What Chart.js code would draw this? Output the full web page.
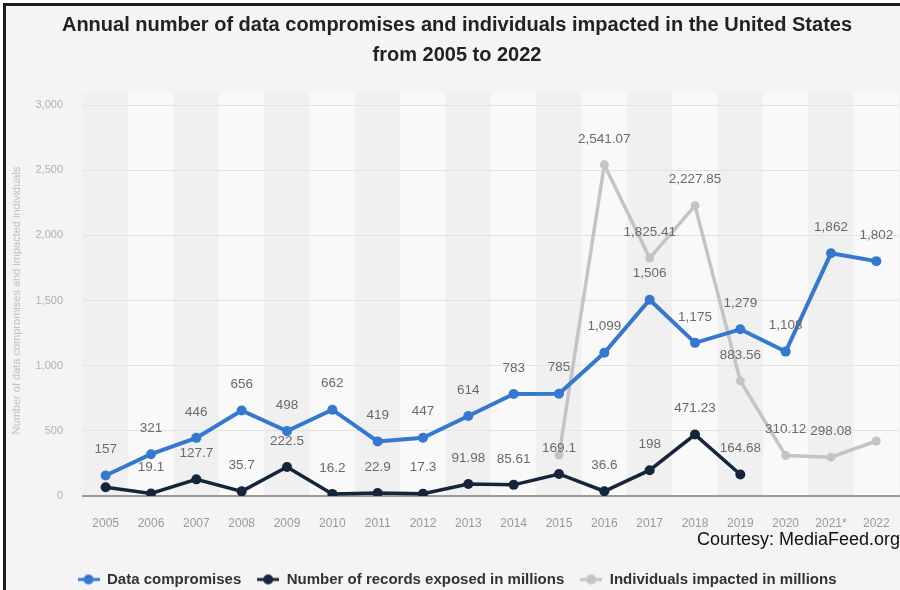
<!DOCTYPE html>
<html>
<head>
<meta charset="utf-8">
<script src="https://cdn.jsdelivr.net/npm/chart.js@4"></script>
<style>
  body { margin: 0; background: #fff; }
  .frame {
    position: absolute; left: 3px; top: 3px; width: 897px; height: 587px;
    border-left: 3px solid #1c1c1c; border-top: 3px solid #1c1c1c;
    background: #f4f4f4;
  }
  #wrap { position: absolute; left: 0; top: 0; width: 900px; height: 590px; overflow: hidden; }
  .courtesy {
    position: absolute; right: 0; top: 529px;
    font-family: "Liberation Sans", Arial, sans-serif; font-size: 18px; color: #111;
  }
</style>
</head>
<body>
<div class="frame"></div>
<div id="wrap"><canvas id="chart" width="904" height="590"></canvas></div>
<div class="courtesy">Courtesy: MediaFeed.org</div>
<script>
// years on the x axis
var years = ["2005", "2006", "2007", "2008", "2009", "2010", "2011", "2012", "2013",
    "2014", "2015", "2016", "2017", "2018", "2019", "2020", "2021*", "2022"];

var compromises = [157, 321, 446, 656, 498, 662, 419, 447, 614, 783, 785, 1099, 1506, 1175, 1279, 1108, 1862, 1802];
var recordsExposed = [66.9, 19.1, 127.7, 35.7, 222.5, 16.2, 22.9, 17.3, 91.98, 85.61, 169.1, 36.6, 198, 471.23, 164.68, null, null, null];
var individualsImpacted = [null, null, null, null, null, null, null, null, null, null, 315, 2541.07, 1825.41, 2227.85, 883.56, 310.12, 298.08, 422.14];

var yTicks = [0, 500, 1000, 1500, 2000, 2500, 3000];

// points whose value label is not shown: "dataset-index"
var hiddenLabels = ["1-0", "2-10", "2-17"];

var blue = "#3578d0";
var navy = "#15253a";
var gray = "#c4c4c4";

function legendMarker(color) {
    var c = document.createElement("canvas");
    c.width = 22; c.height = 12;
    var g = c.getContext("2d");
    g.strokeStyle = color;
    g.lineWidth = 3;
    g.beginPath(); g.moveTo(0, 6); g.lineTo(22, 6); g.stroke();
    g.fillStyle = color;
    g.beginPath(); g.arc(11, 6, 5, 0, Math.PI * 2); g.fill();
    return c;
}

// alternating column shading behind the grid
var bandsPlugin = {
    id: "bands",
    beforeDraw: function (chart) {
        var ctx = chart.ctx, area = chart.chartArea, x = chart.scales.x;
        var half = (x.getPixelForValue(1) - x.getPixelForValue(0)) / 2;
        ctx.save();
        for (var i = 0; i < years.length; i++) {
            var cx = x.getPixelForValue(i);
            ctx.fillStyle = i % 2 === 0 ? "#f0f0f0" : "#f9f9f9";
            ctx.fillRect(cx - half, area.top - 12, half * 2, area.bottom - area.top + 12);
        }
        ctx.restore();
    }
};

// value labels above the points
var valueLabels = {
    id: "valueLabels",
    afterDatasetsDraw: function (chart) {
        var ctx = chart.ctx;
        ctx.save();
        ctx.font = "13.5px 'Liberation Sans', Arial, sans-serif";
        ctx.fillStyle = "#6a6a6a";
        ctx.textAlign = "center";
        ctx.textBaseline = "middle";
        chart.data.datasets.forEach(function (ds, di) {
            var meta = chart.getDatasetMeta(di);
            ds.data.forEach(function (v, i) {
                if (v === null || hiddenLabels.indexOf(di + "-" + i) >= 0) return;
                var p = meta.data[i];
                ctx.fillText(v.toLocaleString("en-US", { maximumFractionDigits: 2 }), p.x, p.y - 26);
            });
        });
        ctx.restore();
    }
};

var ctx = document.getElementById("chart").getContext("2d");
var chart = new Chart(ctx, {
    type: "line",
    data: {
        labels: years,
        datasets: [
            {
                label: "Data compromises",
                data: compromises,
                borderColor: blue, backgroundColor: blue,
                borderWidth: 4, pointRadius: 5, pointBorderWidth: 0
            },
            {
                label: "Number of records exposed in millions",
                data: recordsExposed,
                borderColor: navy, backgroundColor: navy,
                borderWidth: 3.5, pointRadius: 5, pointBorderWidth: 0
            },
            {
                label: "Individuals impacted in millions",
                data: individualsImpacted,
                borderColor: gray, backgroundColor: gray,
                borderWidth: 3.5, pointRadius: 4.5, pointBorderWidth: 0
            }
        ]
    },
    options: {
        responsive: false,
        animation: false,
        layout: { padding: { top: 0, left: 0, right: -10, bottom: -7 } },
        plugins: {
            tooltip: { enabled: false },
            title: {
                display: true,
                text: ["Annual number of data compromises and individuals impacted in the United States", "from 2005 to 2022"],
                color: "#222",
                font: { family: "'Liberation Sans', Arial, sans-serif", size: 20, weight: "bold", lineHeight: 1.5 },
                padding: { top: 10, bottom: 35 }
            },
            legend: {
                position: "bottom",
                labels: {
                    color: "#333",
                    font: { family: "'Liberation Sans', Arial, sans-serif", size: 15, weight: "bold" },
                    usePointStyle: true,
                    pointStyleWidth: 22,
                    padding: 16,
                    generateLabels: function (chart) {
                        var items = Chart.defaults.plugins.legend.labels.generateLabels(chart);
                        items.forEach(function (it, i) {
                            it.pointStyle = legendMarker(chart.data.datasets[i].borderColor);
                        });
                        return items;
                    }
                }
            }
        },
        scales: {
            x: {
                offset: true,
                grid: { display: false },
                border: { display: true, color: "#9a9a9a", width: 2 },
                ticks: {
                    color: "#999",
                    font: { family: "'Liberation Sans', Arial, sans-serif", size: 12 },
                    padding: 12,
                    maxRotation: 0, autoSkip: false
                },
                afterFit: function (scale) { scale.height = 60; }
            },
            y: {
                min: 0, max: 3000,
                afterBuildTicks: function (scale) {
                    scale.ticks = yTicks.map(function (v) { return { value: v }; });
                },
                grid: { color: "#e2e2e2", drawTicks: false },
                border: { display: false },
                ticks: {
                    color: "#b0b0b0",
                    font: { family: "'Liberation Sans', Arial, sans-serif", size: 11 },
                    padding: 20,
                    callback: function (v) { return v.toLocaleString("en-US"); }
                },
                title: {
                    display: true,
                    text: "Number of data compromises and impacted individuals",
                    color: "#c0c0c0",
                    font: { family: "'Liberation Sans', Arial, sans-serif", size: 11 },
                    padding: { top: 10, bottom: 0 }
                },
                afterFit: function (scale) { scale.width = 83; }
            }
        }
    },
    plugins: [bandsPlugin, valueLabels]
});
</script>
</body>
</html>
